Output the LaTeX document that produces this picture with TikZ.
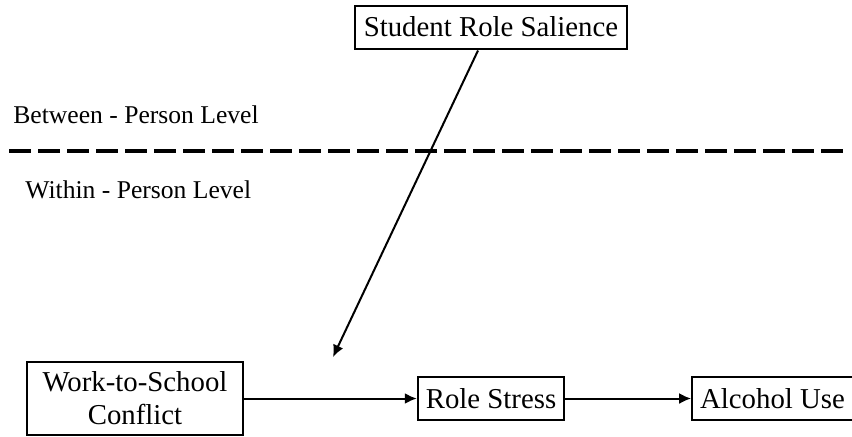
\documentclass[tikz,border=0pt]{standalone}
\usepackage{fontspec}
\setmainfont{Liberation Serif}
\usetikzlibrary{positioning,arrows.meta}

\begin{document}
\begin{tikzpicture}[
  x=0.5pt, y=-0.5pt,
  font=\fontsize{14.4}{16.5}\selectfont,
  box/.style={draw, line width=1pt, inner xsep=4pt, inner ysep=2pt, minimum height=21.5pt, align=center},
  arr/.style={line width=1pt, -{Latex[length=6pt,width=5.5pt]}},
  lvl/.style={anchor=base west, inner sep=0pt, font=\fontsize{12.8}{15}\selectfont}
]
\useasboundingbox (0,0) rectangle (852,436);
% top level
\node[box, minimum width=136pt] (srs) at (491,27) {Student Role Salience};
\node[lvl] (btw) at (13,123) {Between - Person Level};
\node[lvl] (wth) at (25,198) {Within - Person Level};
\coordinate (dl) at (9,151);
\coordinate (dr) at (847,151);
\draw[line width=2pt, dash pattern=on 11pt off 3.5pt] (dl) -- (dr);
% bottom level
\node[box, minimum width=108pt, minimum height=36.5pt] (wsc) at (135,398.5) {Work-to-School\\Conflict};
\node[box, minimum width=73pt] (rs) at (491,398.5) {Role Stress};
\node[box, minimum width=75.5pt] (au) at (772.5,398.5) {Alcohol Use};
\coordinate (mod) at (333,357);
\draw[arr] (srs.south) ++(-13,1) coordinate (top) (top) -- (mod);
\draw[arr] (wsc) -- (rs);
\draw[arr] (rs) -- (au);
\end{tikzpicture}
\end{document}
